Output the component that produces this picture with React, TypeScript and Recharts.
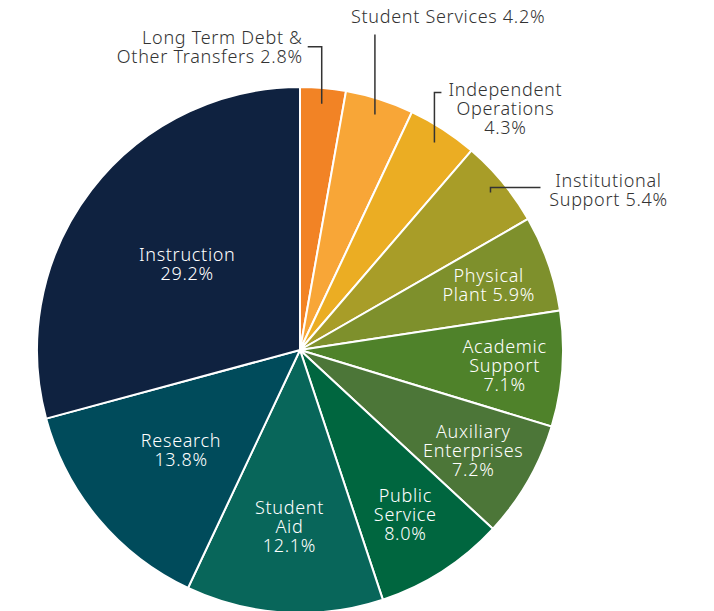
import React from "react";
import { PieChart, Pie, Cell } from "recharts";

const categories = [
  "Long Term Debt & Other Transfers",
  "Student Services",
  "Independent Operations",
  "Institutional Support",
  "Physical Plant",
  "Academic Support",
  "Auxiliary Enterprises",
  "Public Service",
  "Student Aid",
  "Research",
  "Instruction",
];

const shares = [2.8, 4.2, 4.3, 5.4, 5.9, 7.1, 7.2, 8.0, 12.1, 13.8, 29.2];

const labelText: string[][] = [
  ["Long Term Debt &", "Other Transfers 2.8%"],
  ["Student Services 4.2%"],
  ["Independent", "Operations", "4.3%"],
  ["Institutional", "Support 5.4%"],
  ["Physical", "Plant 5.9%"],
  ["Academic", "Support", "7.1%"],
  ["Auxiliary", "Enterprises", "7.2%"],
  ["Public", "Service", "8.0%"],
  ["Student", "Aid", "12.1%"],
  ["Research", "13.8%"],
  ["Instruction", "29.2%"],
];

const sliceColors = [
  "#F28325",
  "#F8A637",
  "#EBAD23",
  "#A89D28",
  "#7E902C",
  "#4F822A",
  "#4C7638",
  "#00663F",
  "#08665A",
  "#004B5B",
  "#0F2240",
];

// label placement: inside labels sit at a fraction of the radius,
// outside labels get an elbow leader line
type Place =
  | { kind: "in"; r: number }
  | { kind: "out"; rise: number; run: number; anchor: "start" | "middle" | "end"; tx: number; ty: number };

const placement: Place[] = [
  { kind: "out", rise: -57, run: -14, anchor: "end", tx: -5, ty: -3 },
  { kind: "out", rise: -80, run: 0, anchor: "start", tx: -24, ty: -11 },
  { kind: "out", rise: -50, run: 7, anchor: "middle", tx: 64, ty: 3 },
  { kind: "out", rise: -5, run: 50, anchor: "middle", tx: 68, ty: 0 },
  { kind: "in", r: 0.76 },
  { kind: "in", r: 0.78 },
  { kind: "in", r: 0.76 },
  { kind: "in", r: 0.74 },
  { kind: "in", r: 0.67 },
  { kind: "in", r: 0.59 },
  { kind: "in", r: 0.54 },
];

const data = categories.map((name, i) => ({ name, value: shares[i] }));

const FONT = "'Noto Sans', sans-serif";
const SIZE = 18;
const SPACING = 0.7;
const LINE = 19;
const RAD = Math.PI / 180;

const renderLabel = (props: any) => {
  const { cx, cy, midAngle, outerRadius } = props;
  const index = typeof props.index === "number" ? props.index : categories.indexOf(props.name);
  const lines = labelText[index];
  const p = placement[index];
  const cos = Math.cos(-midAngle * RAD);
  const sin = Math.sin(-midAngle * RAD);

  if (p.kind === "in") {
    const r = outerRadius * p.r;
    const x = cx + r * cos;
    const y = cy + r * sin;
    const top = y - ((lines.length - 1) * LINE) / 2;
    return (
      <g key={`lbl-${index}`}>
        {lines.map((l, i) => (
          <text
            key={i}
            x={x}
            y={top + i * LINE + 7}
            textAnchor="middle"
            fill="#ffffff"
            fontFamily={FONT}
            fontSize={SIZE}
            fontWeight={300}
            letterSpacing={SPACING}
          >
            {l}
          </text>
        ))}
      </g>
    );
  }

  const r0 = outerRadius * 0.94;
  const sx = cx + r0 * cos;
  const sy = cy + r0 * sin;
  const ex = sx + p.run;
  const ey = sy + p.rise;
  const tx = ex + p.tx;
  const ty = ey + p.ty;
  return (
    <g key={`lbl-${index}`}>
      <polyline
        points={`${sx},${sy} ${sx},${ey} ${ex},${ey}`}
        fill="none"
        stroke="#333333"
        strokeWidth={1.5}
      />
      {lines.map((l, i) => (
        <text
          key={i}
          x={tx}
          y={ty + i * LINE}
          textAnchor={p.anchor}
          fill="#333333"
          fontFamily={FONT}
          fontSize={SIZE}
          fontWeight={300}
          letterSpacing={SPACING}
        >
          {l}
        </text>
      ))}
    </g>
  );
};

export default function App() {
  return (
    <div style={{ width: 714, height: 611, background: "#ffffff" }}>
      <style>{"body{margin:0}"}</style>
      <PieChart width={714} height={611} margin={{ top: 0, right: 0, bottom: 0, left: 0 }}>
        <Pie
          data={data}
          dataKey="value"
          nameKey="name"
          cx={300}
          cy={350}
          outerRadius={263}
          startAngle={90}
          endAngle={-270}
          stroke="#ffffff"
          strokeWidth={2}
          label={renderLabel}
          labelLine={false}
          isAnimationActive={false}
        >
          {data.map((d, i) => (
            <Cell key={d.name} fill={sliceColors[i]} />
          ))}
        </Pie>
      </PieChart>
    </div>
  );
}
